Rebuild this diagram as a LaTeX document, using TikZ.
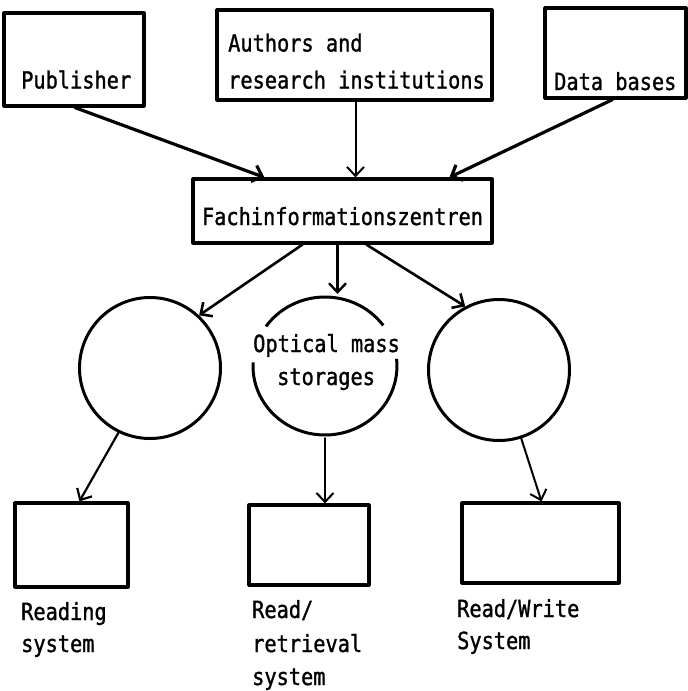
\documentclass[tikz,border=0pt]{standalone}
\usepackage{fontspec}
\usetikzlibrary{arrows.meta,positioning}
% narrow monospaced face, like a plotter lettering
\newfontfamily\plotfont[FakeStretch=0.86,FakeBold=1.2]{DejaVu Sans Mono}

\tikzset{
  frame/.style={draw, line width=3.2pt, line join=round, minimum width=#1},
  disc/.style={circle, line width=3pt, minimum size=141pt, inner sep=0pt},
  txt/.style={font=\plotfont\fontsize{23.6}{33}\selectfont, inner sep=0pt, anchor=base west},
  flow/.style={line width=#1, line cap=round,
    -{Straight Barb[length=9pt,width=17pt,line width=#1]}},
  flow/.default=2.2pt
}

\begin{document}
\begin{tikzpicture}[x=1pt, y=-1pt]
\useasboundingbox (0,0) rectangle (688,691);

% sources
\node[frame=140pt, minimum height=93pt] (pub) at (74,59.5) {};
\node[frame=275pt, minimum height=90pt] (auth) at (354.5,55) {};
\node[frame=141pt, minimum height=90pt] (db) at (615.5,53) {};
\node[txt] at (21,88.5) {Publisher};
\node[txt] at (228,51.5) {Authors and};
\node[txt] at (228,88.5) {research institutions};
\node[txt] at (554,90) {Data bases};

% centre
\node[frame=299pt, minimum height=64pt] (fach) at (342.5,211) {};
\node[txt, anchor=base] at (342.5,225) {Fachinformationszentren};

% storages
\node[disc, draw] (c1) at (150,368) {};
\node[disc] (c2) at (325,366) {};
\node[disc, draw] (c3) at (499,370) {};
% the middle ring is broken where its caption runs through it
\draw[line width=3pt] (c2.center) ++(36:72pt and 69pt) arc[start angle=36, end angle=145, x radius=72pt, y radius=69pt];
\draw[line width=3pt] (c2.center) ++(177:72pt and 69pt) arc[start angle=177, end angle=366, x radius=72pt, y radius=69pt];
\node[txt] at (253,352) {Optical mass};
\node[txt] at (277,385) {storages};

% systems
\node[frame=113pt, minimum height=84pt] (b1) at (71.5,545) {};
\node[frame=120pt, minimum height=80pt] (b2) at (309,545) {};
\node[frame=157pt, minimum height=80pt] (b3) at (540.5,543) {};
\node[txt] at (21,620) {Reading};
\node[txt] at (21,652) {system};
\node[txt] at (252,618) {Read/};
\node[txt] at (252,652) {retrieval};
\node[txt] at (252,685) {system};
\node[txt] at (457,617) {Read/Write};
\node[txt] at (457,649) {System};

% connectors
\draw[flow=3.2pt] ([xshift=1pt]pub.south) -- ([xshift=73pt]fach.north west);
\draw[flow=2pt] ([xshift=1pt]auth.south) -- ([xshift=1pt]auth.south |- fach.north);
\draw[flow=3.2pt] ([xshift=-3pt]db.south) -- ([xshift=258pt]fach.north west);
\draw[flow=2.6pt] ([xshift=111pt]fach.south west) -- (c1.47);
\draw[flow=2.4pt] ([xshift=-5pt]fach.south) -- ([xshift=-5pt]fach.south |- c2.north);
\draw[flow=2.6pt] ([xshift=175pt]fach.south west) -- (c3.118);
\draw[flow=2.2pt] (c1.244) -- ([xshift=66pt]b1.north west);
\draw[flow=2pt] (c2.south) -- (c2.south |- b2.north);
\draw[flow=2pt] (c3.288) -- ([xshift=1pt]b3.north);
\end{tikzpicture}
\end{document}
